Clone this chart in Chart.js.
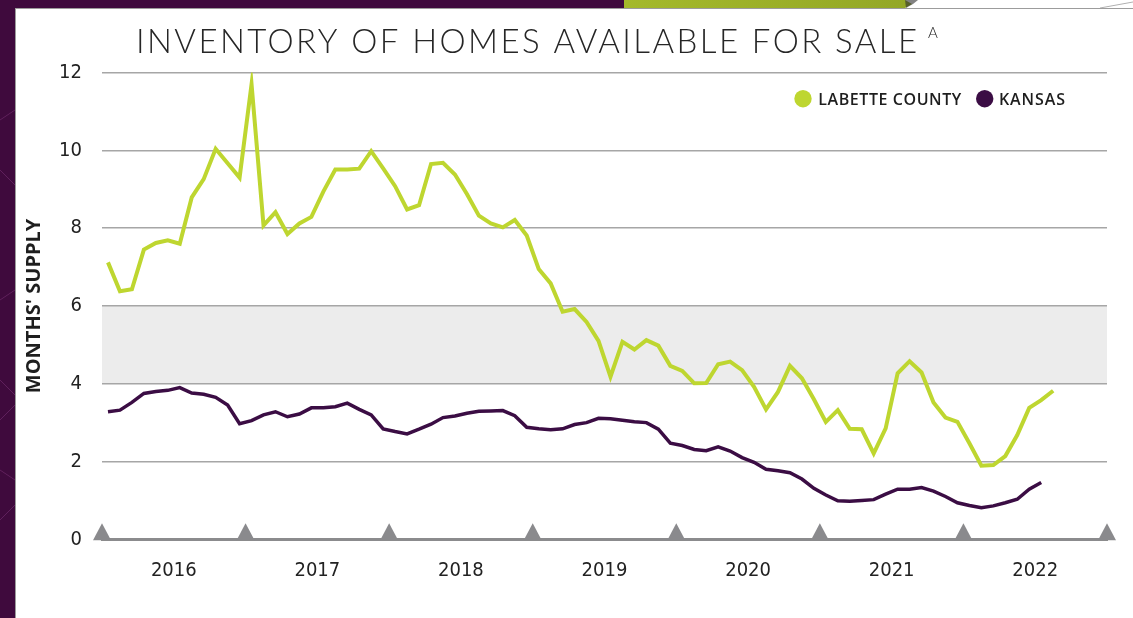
<!DOCTYPE html>
<html>
<head>
<meta charset="utf-8">
<script src="https://cdn.jsdelivr.net/npm/chart.js@4.4.1/dist/chart.umd.min.js"></script>
<style>
  html, body { margin:0; padding:0; width:1133px; height:618px; overflow:hidden; background:#ffffff; }
  #strip { position:absolute; left:0; top:0; width:15px; height:618px; background:#3f0a3d; }
  #topbar { position:absolute; left:0; top:0; width:1133px; height:8px; background:#ffffff; }
  #card { position:absolute; left:15px; top:8px; width:1118px; height:610px; background:#fff;
          border-left:1px solid #9c9c9c; border-top:1px solid #9c9c9c; box-sizing:border-box; }
  #wrap { position:absolute; left:15px; top:9px; width:1118px; height:609px; }
</style>
</head>
<body>
<div id="topbar">
  <svg width="1133" height="8" style="position:absolute;left:0;top:0">
    <rect x="0" y="0" width="624" height="8" fill="#3f0a3d"/>
    <defs><linearGradient id="g" x1="0" x2="1"><stop offset="0" stop-color="#a4b92b"/><stop offset="1" stop-color="#93a726"/></linearGradient></defs>
    <polygon points="624,0 905,0 912,4 905,8 624,8" fill="url(#g)"/>
    <polygon points="905,0 918,0 913,4 906,8" fill="#2e2e2e" opacity="0.6"/>
    <line x1="1100" y1="8" x2="1133" y2="2" stroke="#b0b0b0" stroke-width="1"/>
  </svg>
</div>
<div id="strip">
  <svg width="15" height="618" style="position:absolute;left:0;top:0">
    <polyline points="0,120 15,110" stroke="#6d2a69" stroke-width="1" fill="none" opacity="0.7"/>
    <polyline points="0,170 15,185" stroke="#6d2a69" stroke-width="1" fill="none" opacity="0.7"/>
    <polyline points="0,300 15,290" stroke="#6d2a69" stroke-width="1" fill="none" opacity="0.7"/>
    <polyline points="0,380 15,395" stroke="#6d2a69" stroke-width="1" fill="none" opacity="0.7"/>
    <polyline points="0,420 15,405" stroke="#6d2a69" stroke-width="1" fill="none" opacity="0.7"/>
    <polyline points="0,470 15,480" stroke="#6d2a69" stroke-width="1" fill="none" opacity="0.7"/>
    <polyline points="0,520 15,505" stroke="#6d2a69" stroke-width="1" fill="none" opacity="0.7"/>
  </svg>
</div>
<div id="card"></div>
<div id="wrap"><canvas id="c" width="1118" height="609"></canvas></div>
<script>
// ---- data (monthly, Jan 2016 onward) ----
const years = ['2016', '2017', '2018', '2019', '2020', '2021', '2022'];
const labetteCounty = [
  7.12, 6.38, 6.43, 7.45, 7.62, 7.69, 7.60, 8.79, 9.26, 10.04, 9.67, 9.30,
  11.70, 8.07, 8.41, 7.85, 8.12, 8.29, 8.94, 9.51, 9.51, 9.53, 9.98, 9.54,
  9.08, 8.48, 8.59, 9.65, 9.68, 9.38, 8.88, 8.32, 8.12, 8.02, 8.21, 7.81,
  6.95, 6.58, 5.85, 5.92, 5.59, 5.10, 4.18, 5.08, 4.88, 5.12, 4.98, 4.46,
  4.33, 4.01, 4.02, 4.50, 4.57, 4.35, 3.92, 3.34, 3.79, 4.46, 4.14, 3.60,
  3.02, 3.32, 2.84, 2.83, 2.21, 2.85, 4.27, 4.58, 4.29, 3.52, 3.13, 3.02,
  2.47, 1.89, 1.91, 2.14, 2.68, 3.38, 3.58, 3.82
];
const kansas = [
  3.28, 3.32, 3.52, 3.75, 3.80, 3.83, 3.90, 3.76, 3.73, 3.65, 3.45, 2.97,
  3.05, 3.20, 3.28, 3.15, 3.22, 3.38, 3.38, 3.41, 3.50, 3.34, 3.20, 2.84,
  2.77, 2.71, 2.83, 2.96, 3.13, 3.17, 3.24, 3.29, 3.30, 3.31, 3.18, 2.88,
  2.84, 2.82, 2.84, 2.95, 3.00, 3.11, 3.10, 3.06, 3.02, 3.00, 2.83, 2.47,
  2.41, 2.31, 2.28, 2.38, 2.27, 2.10, 1.98, 1.80, 1.76, 1.71, 1.55, 1.31,
  1.14, 0.99, 0.98, 1.00, 1.02, 1.16, 1.29, 1.29, 1.33, 1.24, 1.10, 0.94,
  0.87, 0.81, 0.86, 0.94, 1.03, 1.29, 1.46
];
const yTicks = [0, 2, 4, 6, 8, 10, 12];
const bandRange = [4, 6];
const seriesNames = ['LABETTE COUNTY', 'KANSAS'];
const titleText = 'INVENTORY OF HOMES AVAILABLE FOR SALE';
const titleNote = 'A';
const yTitle = "MONTHS' SUPPLY";

const GREEN = '#bed630';
const PURPLE = '#3b0d44';
const tickFont = "'Liberation Sans Narrow', 'DejaVu Sans Condensed', 'Roboto', sans-serif";

const toPoints = arr => arr.map((v, i) => ({ x: i + 0.5, y: v }));

const decor = {
  id: 'decor',
  beforeDraw(chart) {
    const { ctx, chartArea: a, scales: { y } } = chart;
    const y1 = y.getPixelForValue(bandRange[1]);
    const y0 = y.getPixelForValue(bandRange[0]);
    ctx.save();
    ctx.fillStyle = '#ececec';
    ctx.fillRect(a.left, y1, a.right - a.left, y0 - y1);
    ctx.restore();
  },
  afterDraw(chart) {
    const { ctx, chartArea: a, scales: { x } } = chart;
    ctx.save();
    // year boundary triangles
    ctx.fillStyle = '#8a8a8d';
    for (let k = 0; k <= years.length; k++) {
      const px = x.getPixelForValue(k * 12);
      ctx.beginPath();
      ctx.moveTo(px - 9, a.bottom + 1);
      ctx.lineTo(px + 9, a.bottom + 1);
      ctx.lineTo(px, a.bottom - 16);
      ctx.closePath();
      ctx.fill();
    }
    // title
    ctx.fillStyle = '#262626';
    ctx.textBaseline = 'alphabetic';
    ctx.font = "300 33px Lato, 'Open Sans', sans-serif";
    ctx.letterSpacing = '0px';
    const targetW = 781;
    let w = ctx.measureText(titleText).width;
    const ls = (targetW - w) / (titleText.length - 1);
    ctx.letterSpacing = ls.toFixed(2) + 'px';
    ctx.fillText(titleText, 121, 43.5);
    ctx.letterSpacing = '0px';
    ctx.font = "300 15px Lato, 'Open Sans', sans-serif";
    ctx.fillText(titleNote, 913, 29);
    // legend
    const colors = [GREEN, PURPLE];
    const circX = [788, 969.7];
    const textX = [803.3, 984];
    const textW = [143, 66];
    ctx.font = "600 16px 'Open Sans', sans-serif";
    for (let i = 0; i < 2; i++) {
      ctx.fillStyle = colors[i];
      ctx.beginPath();
      ctx.arc(circX[i], 89.7, 8.7, 0, Math.PI * 2);
      ctx.fill();
      ctx.fillStyle = '#1e1e1e';
      ctx.letterSpacing = '0px';
      const tw = ctx.measureText(seriesNames[i]).width;
      ctx.letterSpacing = ((textW[i] - tw) / (seriesNames[i].length - 1)).toFixed(2) + 'px';
      ctx.fillText(seriesNames[i], textX[i], 95.5);
    }
    ctx.restore();
  }
};

new Chart(document.getElementById('c'), {
  type: 'line',
  data: {
    datasets: [
      { label: seriesNames[0], data: toPoints(labetteCounty), borderColor: GREEN, borderWidth: 4,
        pointRadius: 0, tension: 0, fill: false, borderJoinStyle: 'miter' },
      { label: seriesNames[1], data: toPoints(kansas), borderColor: PURPLE, borderWidth: 3.5,
        pointRadius: 0, tension: 0, fill: false, borderJoinStyle: 'miter' }
    ]
  },
  options: {
    responsive: false,
    animation: false,
    events: [],
    layout: { padding: { top: 63.6, right: 26, left: 0, bottom: 0 } },
    plugins: { legend: { display: false }, title: { display: false }, tooltip: { enabled: false } },
    scales: {
      x: {
        type: 'linear', min: 0, max: years.length * 12,
        grid: { display: false, drawTicks: false },
        border: { display: true, color: '#8b8b8d', width: 3 },
        afterBuildTicks: s => { s.ticks = years.map((_, i) => ({ value: i * 12 + 6 })); },
        ticks: {
          autoSkip: false, maxRotation: 0, padding: 19,
          color: '#222', font: { family: tickFont, size: 20 },
          callback: v => years[Math.round((v - 6) / 12)]
        },
        afterFit: s => { s.height = 78.7; }
      },
      y: {
        min: 0, max: 12,
        afterBuildTicks: s => { s.ticks = yTicks.map(v => ({ value: v })); },
        grid: { drawTicks: false, color: c => c.tick && c.tick.value === 0 ? 'rgba(0,0,0,0)' : '#a6a6a6', lineWidth: 1.5 },
        border: { display: false },
        ticks: { padding: 20, color: '#222', font: { family: tickFont, size: 20 } },
        title: { display: true, text: yTitle, color: '#1e1e1e', padding: { top: 7, bottom: 0 },
                 font: { family: "'Open Sans', sans-serif", size: 20, weight: 'bold' } },
        afterFit: s => { s.width = 87; }
      }
    }
  },
  plugins: [decor]
});
</script>
</body>
</html>
